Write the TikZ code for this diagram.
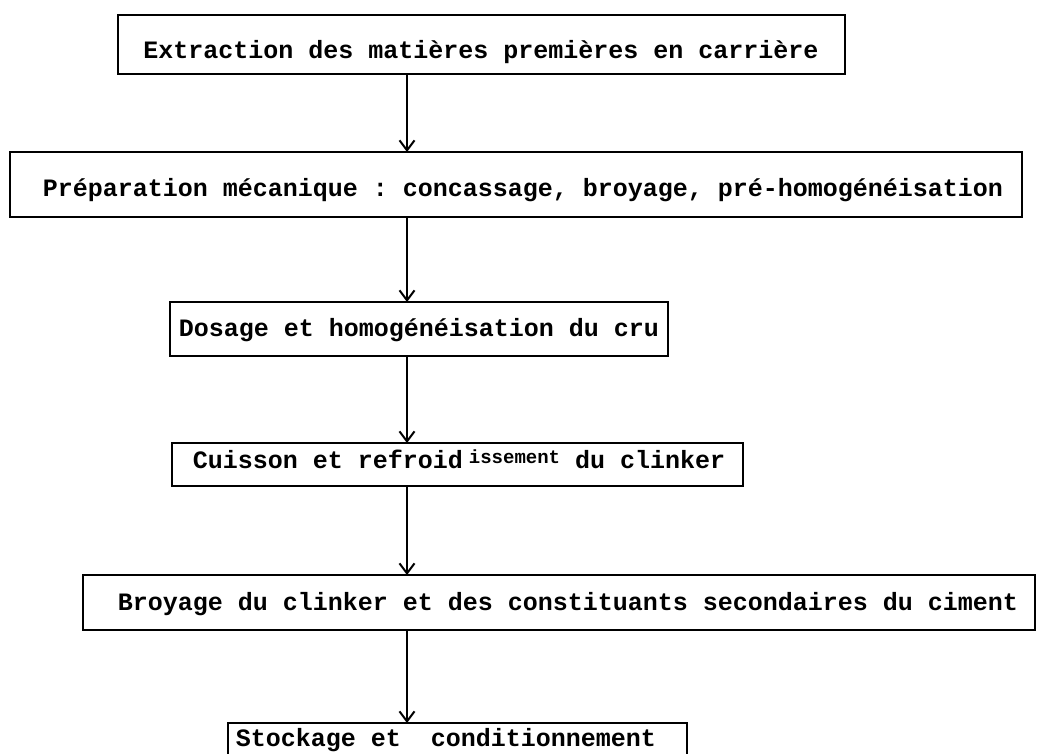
\documentclass[tikz,border=0pt]{standalone}
\usepackage{fontspec}
\setmonofont{Liberation Mono}
\usetikzlibrary{arrows.meta}
\begin{document}
\begin{tikzpicture}[x=1pt,y=-1pt,
  frame/.style={draw, line width=2pt, inner sep=0pt, outer sep=0pt},
  caption/.style={font=\ttfamily\bfseries\fontsize{25}{30}\selectfont, inner sep=0pt, anchor=base},
  flow/.style={line width=2pt, -{Straight Barb[length=10pt,width=15pt,line width=2pt]}}]
\useasboundingbox (0,0) rectangle (1040,753);
\clip (0,0) rectangle (1040,753);
\fill[white] (0,0) rectangle (1040,753);

% process frames
\node[frame, minimum width=727pt, minimum height=59pt] (b1) at (481.5,44.5) {};
\node[frame, minimum width=1012pt, minimum height=65pt] (b2) at (516,184.5) {};
\node[frame, minimum width=498pt, minimum height=54pt] (b3) at (419,329) {};
\node[frame, minimum width=571pt, minimum height=43pt] (b4) at (457.5,464.5) {};
\node[frame, minimum width=952pt, minimum height=55pt] (b5) at (559,602.5) {};
\node[frame, minimum width=459pt, minimum height=74pt] (b6) at (457.5,760) {};

% captions
\node[caption] (t1) at (481,58) {Extraction des matières premières en carrière};
\node[caption] (t2) at (523,196) {Préparation mécanique : concassage, broyage, pré-homogénéisation};
\node[caption] (t3) at (419,336) {Dosage et homogénéisation du cru};
\node[caption] (t4) at (459,468) {Cuisson et refroid\hspace{6pt}\raisebox{5pt}{\fontsize{19}{21}\selectfont issement} du clinker};
\node[caption] (t5) at (568,610) {Broyage du clinker et des constituants secondaires du ciment};
\node[caption] (t6) at (446,746) {Stockage et\ \ conditionnement};

% flow line
\coordinate (ax) at (407,0);
\draw[flow] (b1.south -| ax) -- (b2.north -| ax);
\draw[flow] (b2.south -| ax) -- (b3.north -| ax);
\draw[flow] (b3.south -| ax) -- (b4.north -| ax);
\draw[flow] (b4.south -| ax) -- (b5.north -| ax);
\draw[flow] (b5.south -| ax) -- (b6.north -| ax);
\end{tikzpicture}
\end{document}
